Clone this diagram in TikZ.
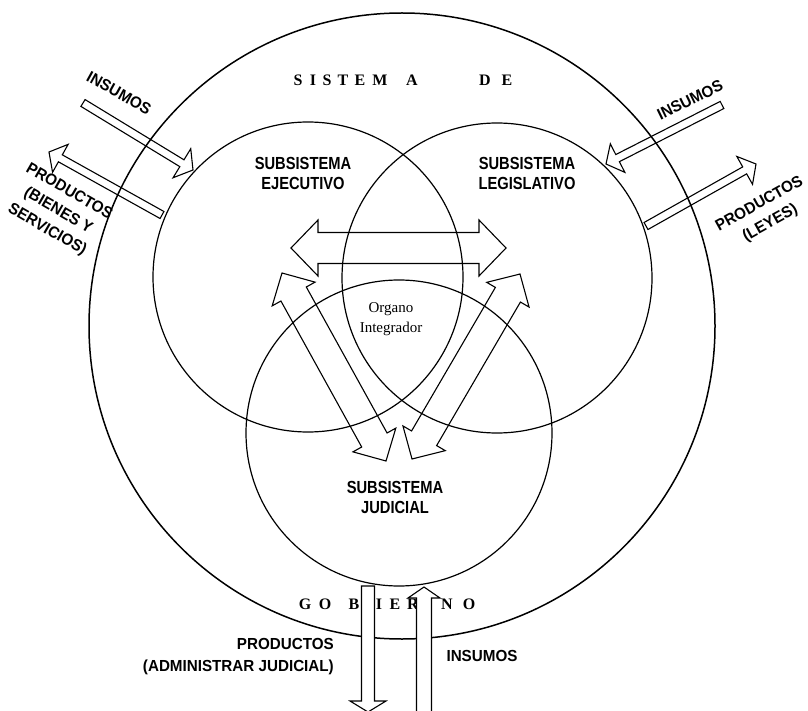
\documentclass[tikz,border=0pt]{standalone}
\usepackage{fontspec}
\setmainfont{Liberation Serif}
\newfontfamily\etiq[FakeStretch=0.84]{Liberation Sans}
\newfontfamily\rotulo[FakeStretch=0.95]{Liberation Sans}
\usetikzlibrary{calc}

\tikzset{
  subsis/.style={circle, draw, line width=1.2pt, minimum size=310pt, inner sep=0pt},
  bloque/.style={draw, line width=1.1pt, line join=miter},
  titulo/.style={font=\bfseries\fontsize{16}{18}\selectfont, inner sep=0pt},
  nombre/.style={font=\etiq\bfseries\fontsize{17.5}{20}\selectfont, align=center, inner sep=0pt},
  rotulo/.style={font=\rotulo\bfseries\fontsize{16}{22}\selectfont, align=center, inner sep=0pt}
}

% flecha de bloque: [opciones]{cola}{punta}{medio ancho}{medio ancho punta}{largo punta}
\newcommand{\flechasimple}[6][]{%
  \coordinate (hb) at ($(#3)!#6!(#2)$);
  \draw[bloque,#1] ($(#2)!#4!90:(#3)$) -- ($(hb)!#4!90:(#3)$) -- ($(hb)!#5!90:(#3)$) -- (#3)
    -- ($(hb)!#5!-90:(#3)$) -- ($(hb)!#4!-90:(#3)$) -- ($(#2)!#4!-90:(#3)$) -- cycle;}
\newcommand{\flechadoble}[6][]{%
  \coordinate (ha) at ($(#2)!#6!(#3)$);
  \coordinate (hb) at ($(#3)!#6!(#2)$);
  \draw[bloque,#1] (#2) -- ($(ha)!#5!90:(#3)$) -- ($(ha)!#4!90:(#3)$) -- ($(hb)!#4!90:(#3)$)
    -- ($(hb)!#5!90:(#3)$) -- (#3) -- ($(hb)!#5!-90:(#3)$) -- ($(hb)!#4!-90:(#3)$)
    -- ($(ha)!#4!-90:(#3)$) -- ($(ha)!#5!-90:(#3)$) -- cycle;}

\begin{document}
\begin{tikzpicture}[x=1pt, y=-1pt]
    \clip (0,0) rectangle (808,711);

    % sistema y subsistemas
    \node[subsis, line width=1.5pt, minimum size=626pt] (sistema) at (402,326) {};
    \node[subsis] (ejecutivo) at (308,277) {};
    \node[subsis] (legislativo) at (497,278) {};
    \node[subsis, minimum size=306pt] (judicial) at (399,433) {};

    % rotulos del sistema
    \foreach \letra/\px in {S/298, I/313, S/327, T/343, E/360, M/380, A/412, D/485, E/507}
        \node[titulo] (sis\px) at (\px,80) {\letra};
    \foreach \letra/\px in {G/305, O/325, B/354, I/379, E/395, R/413, N/447, O/469}
        \node[titulo] (gob\px) at (\px,604) {\letra};

    \node[nombre] (t-ejec) at (303,173) {SUBSISTEMA\\EJECUTIVO};
    \node[nombre] (t-legis) at (527,173) {SUBSISTEMA\\LEGISLATIVO};
    \node[nombre] (t-jud) at (395,497) {SUBSISTEMA\\JUDICIAL};
    \node[align=center, font=\fontsize{15}{20}\selectfont] (organo) at (391,319) {Organo\\Integrador};

    % flechas internas
    \coordinate (h1) at (291,248);
    \coordinate (h2) at (506,248);
    \coordinate (i1) at (282,273);
    \coordinate (i2) at (386,461);
    \coordinate (d1) at (520,274);
    \coordinate (d2) at (412,459);
    \flechadoble{h1}{h2}{15.5pt}{28pt}{27pt}
    \flechadoble{i1}{i2}{14.5pt}{24.5pt}{24pt}
    \flechadoble{d1}{d2}{14.5pt}{24.5pt}{24pt}

    % entradas y salidas
    \coordinate (insL-a) at (83,103);
    \coordinate (insL-b) at (193,170);
    \coordinate (prodL-a) at (162,215);
    \coordinate (prodL-b) at (49,152);
    \coordinate (insR-a) at (722,105);
    \coordinate (insR-b) at (606,164);
    \coordinate (prodR-a) at (646,226);
    \coordinate (prodR-b) at (756,164);
    \coordinate (prodB-a) at (368,586);
    \coordinate (prodB-b) at (368,712);
    \coordinate (insB-a) at (424,716);
    \coordinate (insB-b) at (424,587);
    \flechasimple{insL-a}{insL-b}{4pt}{17pt}{13pt}
    \flechasimple{prodL-a}{prodL-b}{4pt}{16pt}{13pt}
    \flechasimple{insR-a}{insR-b}{4pt}{16pt}{13pt}
    \flechasimple{prodR-a}{prodR-b}{4pt}{16pt}{13pt}
    \flechasimple[fill=white]{prodB-a}{prodB-b}{6.5pt}{18pt}{11pt}
    \flechasimple[fill=white]{insB-a}{insB-b}{7.5pt}{16pt}{11pt}

    % rotulos de las flechas
    \node[rotulo, rotate=-29] (t-insL) at (119,93) {INSUMOS};
    \node[rotulo, rotate=-30] (t-prodL) at (58,211) {PRODUCTOS\\(BIENES Y\\SERVICIOS)};
    \node[rotulo, rotate=26] (t-insR) at (690,100) {INSUMOS};
    \node[rotulo, rotate=29] (t-prodR) at (765,214) {PRODUCTOS\\(LEYES)};
    \node[rotulo, align=right, anchor=east] (t-prodB) at (334,657) {PRODUCTOS\\(ADMINISTRAR JUDICIAL)};
    \node[rotulo] (t-insB) at (482,656) {INSUMOS};
\end{tikzpicture}
\end{document}
